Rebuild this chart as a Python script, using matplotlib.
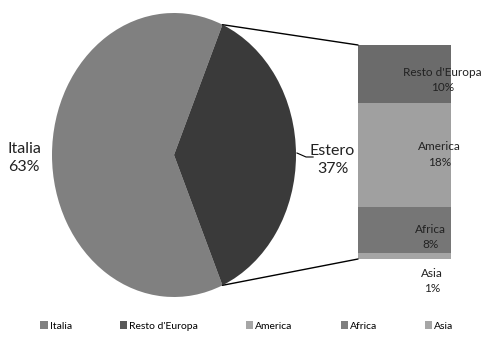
import matplotlib
matplotlib.use("Agg")
import numpy as np
import matplotlib.pyplot as plt
from matplotlib.patches import ConnectionPatch, Patch

plt.rcParams['font.family'] = ['Lato', 'DejaVu Sans']

# dati
torta_nomi = ['Italia', 'Estero']
torta_val = [63, 37]
torta_col = ['#808080', '#3a3a3a']

estero_nomi = ['Asia', 'Africa', 'America', "Resto d'Europa"]
estero_val = [1, 8, 18, 10]
estero_col = ['#a5a5a5', '#767676', '#a0a0a0', '#6b6b6b']

legenda_nomi = ['Italia', "Resto d'Europa", 'America', 'Africa', 'Asia']
legenda_col = ['#808080', '#595959', '#a6a6a6', '#7f7f7f', '#a6a6a6']

W, H = 486, 339
fig = plt.figure(figsize=(W / 100, H / 100), dpi=100)

# torta (ellittica come nell'originale)
ax1 = fig.add_axes([52 / W, 1 - 297 / H, 244 / W, 284 / H])
ang = torta_val[0] / 100 * 360 / 2
wedges, _ = ax1.pie(torta_val, colors=torta_col, startangle=180 - ang,
                    radius=1, wedgeprops=dict(linewidth=0))
ax1.set_xlim(-1, 1)
ax1.set_ylim(-1, 1)
ax1.set_aspect('auto')
ax1.axis('off')

ax1.text(-1.23, -0.02, 'Italia\n63%', ha='center', va='center',
         fontsize=11.5, linespacing=1.4, color='#222222')
ax1.text(1.30, -0.035, 'Estero\n37%', ha='center', va='center',
         fontsize=11.5, linespacing=1.4, color='#222222')
ax1.plot([1.008, 1.082, 1.14], [0.014, -0.014, -0.014], color='black', lw=0.8,
         clip_on=False)

# barra di dettaglio
ax2 = fig.add_axes([358 / W, 1 - 259 / H, 93 / W, 214 / H])
bottom = 0
centri = []
for v, c in zip(estero_val, estero_col):
    ax2.bar(0, v, bottom=bottom, width=1, color=c, linewidth=0)
    centri.append(bottom + v / 2)
    bottom += v
ax2.set_xlim(-0.5, 0.5)
ax2.set_ylim(0, sum(estero_val))
ax2.axis('off')

# spostamenti delle etichette (Asia, Africa, America, Resto d'Europa)
spost_x = [0.30, 0.28, 0.38, 0.41]
spost_y = [-4.3, -1.2, 0.1, -1.05]
for nome, v, cy, dx, dy in zip(estero_nomi, estero_val, centri, spost_x, spost_y):
    ax2.text(dx, cy + dy, f'{nome}\n{v}%', ha='center', va='center',
             fontsize=8.5, linespacing=1.5, color='#222222', clip_on=False)

# linee di collegamento
t = np.deg2rad(torta_val[1] / 100 * 360 / 2)
for segno, ybar in [(1, sum(estero_val)), (-1, 0)]:
    con = ConnectionPatch(xyA=(np.cos(t), segno * np.sin(t)), coordsA=ax1.transData,
                          xyB=(-0.5, ybar), coordsB=ax2.transData,
                          color='black', lw=1.0)
    fig.add_artist(con)

# legenda
maniglie = [Patch(facecolor=c, edgecolor='none') for c in legenda_col]
fig.legend(maniglie, legenda_nomi, loc='center', bbox_to_anchor=(0.5 + 4 / W, 1 - 326 / H),
           ncol=5, frameon=False, fontsize=7.5, handlelength=0.7, handleheight=0.7,
           handletextpad=0.2, columnspacing=4.6)

fig.savefig('out.png', dpi=100)
